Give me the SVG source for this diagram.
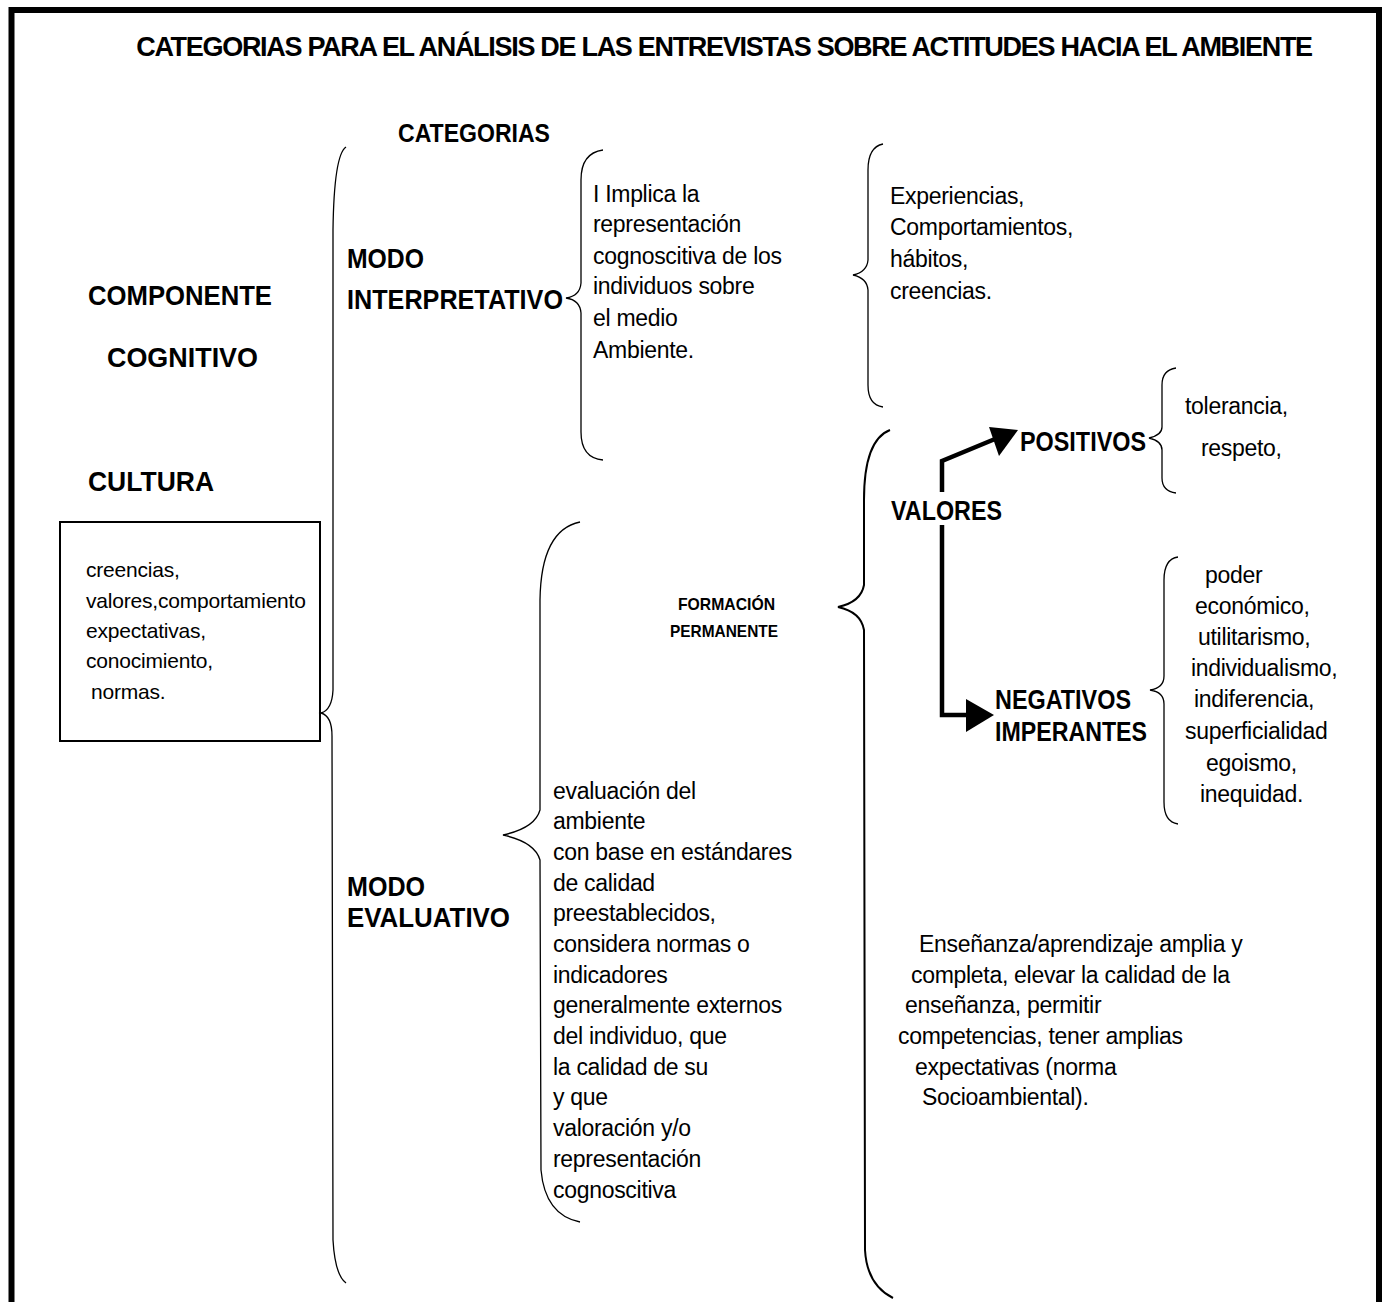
<svg xmlns="http://www.w3.org/2000/svg" width="1387" height="1302" viewBox="0 0 1387 1302">
<style>
text{font-family:"Liberation Sans",Arial,sans-serif;fill:#000}
.t{font-size:27px;font-weight:bold;letter-spacing:-1.3px}
.b{font-size:28px;font-weight:bold}
.m{font-size:27px;font-weight:bold}
.s{font-size:17px;font-weight:bold}
.r{font-size:23px;letter-spacing:-0.3px}
.x{font-size:21px;letter-spacing:-0.2px}
.br{fill:none;stroke:#000;stroke-width:1.3}
.br2{fill:none;stroke:#000;stroke-width:2}
.ar{fill:none;stroke:#000;stroke-width:4.5}
</style>
<path d="M11.5,1302 V10 H1379 V1302" fill="none" stroke="#000" stroke-width="6"/>
<g id="title"><text class="t" x="724" y="56" text-anchor="middle">CATEGORIAS PARA EL ANÁLISIS DE LAS ENTREVISTAS SOBRE ACTITUDES HACIA EL AMBIENTE</text></g>
<g id="categorias"><text x="398" y="142" style="font-size:25px;font-weight:bold" textLength="152" lengthAdjust="spacingAndGlyphs">CATEGORIAS</text></g>
<g id="componente"><text class="b" x="88" y="305" textLength="184" lengthAdjust="spacingAndGlyphs">COMPONENTE</text><text class="b" x="107" y="367" textLength="151" lengthAdjust="spacingAndGlyphs">COGNITIVO</text></g>
<g id="cultura"><text class="b" x="88" y="491" textLength="126" lengthAdjust="spacingAndGlyphs">CULTURA</text></g>
<g id="cultura-box">
<rect x="60" y="522" width="260" height="219" fill="none" stroke="#000" stroke-width="2"/>
<text class="x" x="86" y="577">creencias,</text>
<text class="x" x="86" y="608">valores,comportamiento</text>
<text class="x" x="86" y="638">expectativas,</text>
<text class="x" x="86" y="668">conocimiento,</text>
<text class="x" x="91" y="699">normas.</text>
</g>
<g id="modo-interpretativo"><text class="b" x="347" y="268" textLength="77" lengthAdjust="spacingAndGlyphs">MODO</text><text class="b" x="347" y="309" textLength="216" lengthAdjust="spacingAndGlyphs">INTERPRETATIVO</text></g>
<g id="interpretativo-desc">
<text class="r" x="593" y="202">I Implica la</text>
<text class="r" x="593" y="232">representación</text>
<text class="r" x="593" y="264">cognoscitiva de los</text>
<text class="r" x="593" y="294">individuos sobre</text>
<text class="r" x="593" y="326">el medio</text>
<text class="r" x="593" y="358">Ambiente.</text>
</g>
<g id="experiencias">
<text class="r" x="890" y="204">Experiencias,</text>
<text class="r" x="890" y="235">Comportamientos,</text>
<text class="r" x="890" y="267">hábitos,</text>
<text class="r" x="890" y="299">creencias.</text>
</g>
<g id="positivos"><text class="m" x="1020" y="451" textLength="126" lengthAdjust="spacingAndGlyphs">POSITIVOS</text></g>
<g id="positivos-list"><text class="r" x="1185" y="414">tolerancia,</text><text class="r" x="1201" y="456">respeto,</text></g>
<g id="valores"><text class="m" x="891" y="520" textLength="111" lengthAdjust="spacingAndGlyphs">VALORES</text></g>
<g id="negativos"><text class="m" x="995" y="709" textLength="136" lengthAdjust="spacingAndGlyphs">NEGATIVOS</text><text class="m" x="995" y="741" textLength="152" lengthAdjust="spacingAndGlyphs">IMPERANTES</text></g>
<g id="negativos-list">
<text class="r" x="1205" y="583">poder</text>
<text class="r" x="1195" y="614">económico,</text>
<text class="r" x="1198" y="645">utilitarismo,</text>
<text class="r" x="1191" y="676">individualismo,</text>
<text class="r" x="1194" y="707">indiferencia,</text>
<text class="r" x="1185" y="739">superficialidad</text>
<text class="r" x="1206" y="771">egoismo,</text>
<text class="r" x="1200" y="802">inequidad.</text>
</g>
<g id="formacion"><text class="s" x="678" y="610" textLength="97" lengthAdjust="spacingAndGlyphs">FORMACIÓN</text><text class="s" x="670" y="637" textLength="108" lengthAdjust="spacingAndGlyphs">PERMANENTE</text></g>
<g id="modo-evaluativo"><text class="b" x="347" y="896" textLength="78" lengthAdjust="spacingAndGlyphs">MODO</text><text class="b" x="347" y="927" textLength="163" lengthAdjust="spacingAndGlyphs">EVALUATIVO</text></g>
<g id="evaluativo-desc">
<text class="r" x="553" y="799">evaluación del</text>
<text class="r" x="553" y="829">ambiente</text>
<text class="r" x="553" y="860">con base en estándares</text>
<text class="r" x="553" y="891">de calidad</text>
<text class="r" x="553" y="921">preestablecidos,</text>
<text class="r" x="553" y="952">considera normas o</text>
<text class="r" x="553" y="983">indicadores</text>
<text class="r" x="553" y="1013">generalmente externos</text>
<text class="r" x="553" y="1044">del individuo, que</text>
<text class="r" x="553" y="1075">la calidad de su</text>
<text class="r" x="553" y="1105">y que</text>
<text class="r" x="553" y="1136">valoración y/o</text>
<text class="r" x="553" y="1167">representación</text>
<text class="r" x="553" y="1198">cognoscitiva</text>
</g>
<g id="formacion-desc">
<text class="r" x="919" y="952">Enseñanza/aprendizaje amplia y</text>
<text class="r" x="911" y="983">completa, elevar la calidad de la</text>
<text class="r" x="905" y="1013">enseñanza, permitir</text>
<text class="r" x="898" y="1044">competencias, tener amplias</text>
<text class="r" x="915" y="1075">expectativas (norma</text>
<text class="r" x="922" y="1105">Socioambiental).</text>
</g>
<g id="connectors">
<path class="br" d="M346,147 Q334,155 333,230 L333,690 Q332,710 321,713 Q332,716 332,736 L333,1240 Q335,1275 346,1283"/>
<path class="br" d="M603,150 Q581,153 581,180 L581,283 Q580,296 566,298 Q580,300 581,313 L581,432 Q581,458 603,460"/>
<path class="br" d="M883,144 Q868,147 868,170 L868,260 Q867,272 853,275 Q867,278 868,290 L868,385 Q868,405 883,407"/>
<path class="br" d="M1176,368 Q1162,370 1162,385 L1162,427 Q1162,435 1149,438 Q1162,441 1162,450 L1162,478 Q1162,491 1176,493"/>
<path class="br" d="M1178,557 Q1164,559 1164,580 L1164,676 Q1164,688 1150,690 Q1164,692 1164,704 L1164,802 Q1164,822 1178,824"/>
<path class="br2" d="M890,430 Q864,440 864,500 L864,585 Q861,602 838,607 Q861,612 864,630 L865,1250 Q867,1285 893,1298"/>
<path class="br" d="M580,522 Q541,530 540,600 L540,810 Q535,828 503,835 Q535,842 540,860 L541,1170 Q545,1215 580,1222"/>
<path class="ar" d="M942,492 V461 L995,439"/>
<polygon points="1018,430 989,427 999,456"/>
<path class="ar" d="M942,525 V715 H968"/>
<polygon points="966,699 994,715 966,732"/>
</g>
</svg>
